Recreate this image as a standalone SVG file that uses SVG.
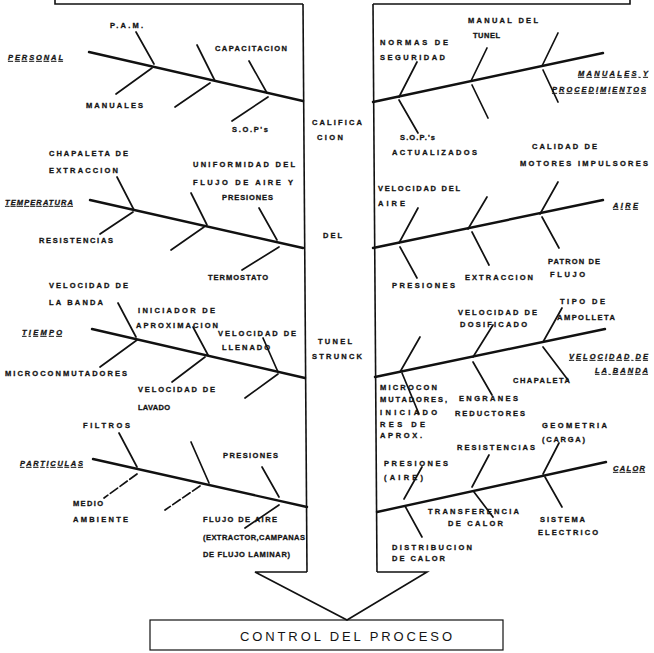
<svg xmlns="http://www.w3.org/2000/svg" width="654" height="653" viewBox="0 0 654 653">
  <style>
    .t { font-family: "Liberation Sans", Arial, sans-serif; font-size: 7.5px; font-weight: bold; fill: #141414; stroke: #141414; stroke-width: 0.3; }
    .cat { font-style: italic; text-decoration: underline; }
    .spine { stroke: #111; stroke-width: 2.4; fill: none; stroke-linecap: round; }
    .bone { stroke: #111; stroke-width: 1.7; fill: none; stroke-linecap: round; }
    .body { stroke: #111; stroke-width: 1.6; fill: none; }
    .out { font-family: "Liberation Sans", Arial, sans-serif; font-size: 13px; fill: #141414; }
  </style>
  <rect width="654" height="653" fill="#ffffff"/>

  <!-- arrow body carrying the effect down to the output -->
  <g id="connectors">
    <polyline class="body" points="55,0 55,4 303,4"/>
    <polyline class="body" points="373,4 630,4 630,0"/>
    <line class="body" x1="303" y1="4" x2="307" y2="572"/>
    <line class="body" x1="373" y1="4" x2="377" y2="572"/>
    <polyline class="body" points="307,572 255,572 347,620 427,572 377,572" stroke-width="1.2"/>
  </g>

  <!-- problem statement written along the arrow -->
  <g id="problem">
    <text class="t" x="312" y="125" textLength="50" lengthAdjust="spacing">CALIFICA</text>
    <text class="t" x="317" y="140" textLength="26" lengthAdjust="spacing">CION</text>
    <text class="t" x="323" y="238" textLength="19" lengthAdjust="spacing">DEL</text>
    <text class="t" x="318" y="344" textLength="34" lengthAdjust="spacing">TUNEL</text>
    <text class="t" x="312" y="359" textLength="50" lengthAdjust="spacing">STRUNCK</text>
  </g>

  <!-- left side categories -->
  <g id="personal">
    <line class="spine" x1="89" y1="52" x2="303" y2="101"/>
    <line class="bone" x1="136" y1="32" x2="154" y2="64"/>
    <line class="bone" x1="197" y1="45" x2="215" y2="81"/>
    <line class="bone" x1="249" y1="61" x2="267" y2="93"/>
    <line class="bone" x1="152" y1="68" x2="116" y2="94"/>
    <line class="bone" x1="210" y1="83" x2="175" y2="107"/>
    <line class="bone" x1="268" y1="97" x2="232" y2="121"/>
    <text class="t cat" x="8" y="60" textLength="55" lengthAdjust="spacing">PERSONAL</text>
    <text class="t" x="110" y="28" textLength="33" lengthAdjust="spacing">P.A.M.</text>
    <text class="t" x="215" y="51" textLength="72" lengthAdjust="spacing">CAPACITACION</text>
    <text class="t" x="86" y="108" textLength="57" lengthAdjust="spacing">MANUALES</text>
    <text class="t" x="232" y="132" textLength="36" lengthAdjust="spacing">S.O.P's</text>
  </g>

  <g id="temperatura">
    <line class="spine" x1="90" y1="200" x2="303" y2="248"/>
    <line class="bone" x1="117" y1="177" x2="134" y2="210"/>
    <line class="bone" x1="191" y1="193" x2="207" y2="225"/>
    <line class="bone" x1="259" y1="208" x2="277" y2="240"/>
    <line class="bone" x1="133" y1="212" x2="100" y2="234"/>
    <line class="bone" x1="204" y1="227" x2="171" y2="250"/>
    <line class="bone" x1="279" y1="247" x2="242" y2="270"/>
    <text class="t cat" x="5" y="205" textLength="68" lengthAdjust="spacing">TEMPERATURA</text>
    <text class="t" x="49" y="156" textLength="79" lengthAdjust="spacing">CHAPALETA DE</text>
    <text class="t" x="49" y="173" textLength="69" lengthAdjust="spacing">EXTRACCION</text>
    <text class="t" x="193" y="167" textLength="102" lengthAdjust="spacing">UNIFORMIDAD DEL</text>
    <text class="t" x="193" y="185" textLength="100" lengthAdjust="spacing">FLUJO DE AIRE Y</text>
    <text class="t" x="222" y="200" textLength="51" lengthAdjust="spacing">PRESIONES</text>
    <text class="t" x="39" y="243" textLength="74" lengthAdjust="spacing">RESISTENCIAS</text>
    <text class="t" x="208" y="280" textLength="60" lengthAdjust="spacing">TERMOSTATO</text>
  </g>

  <g id="tiempo">
    <line class="spine" x1="92" y1="329" x2="305" y2="378"/>
    <line class="bone" x1="118" y1="303" x2="136" y2="337"/>
    <line class="bone" x1="193" y1="327" x2="208" y2="355"/>
    <line class="bone" x1="263" y1="338" x2="278" y2="372"/>
    <line class="bone" x1="137" y1="340" x2="100" y2="367"/>
    <line class="bone" x1="205" y1="357" x2="172" y2="382"/>
    <line class="bone" x1="278" y1="374" x2="245" y2="398"/>
    <text class="t cat" x="22" y="335" textLength="40" lengthAdjust="spacing">TIEMPO</text>
    <text class="t" x="49" y="288" textLength="79" lengthAdjust="spacing">VELOCIDAD DE</text>
    <text class="t" x="49" y="305" textLength="54" lengthAdjust="spacing">LA BANDA</text>
    <text class="t" x="138" y="313" textLength="77" lengthAdjust="spacing">INICIADOR DE</text>
    <text class="t" x="136" y="328" textLength="82" lengthAdjust="spacing">APROXIMACION</text>
    <text class="t" x="218" y="336" textLength="78" lengthAdjust="spacing">VELOCIDAD DE</text>
    <text class="t" x="222" y="350" textLength="48" lengthAdjust="spacing">LLENADO</text>
    <text class="t" x="5" y="376" textLength="122" lengthAdjust="spacing">MICROCONMUTADORES</text>
    <text class="t" x="138" y="392" textLength="77" lengthAdjust="spacing">VELOCIDAD DE</text>
    <text class="t" x="138" y="410" textLength="32" lengthAdjust="spacing">LAVADO</text>
  </g>

  <g id="particulas">
    <line class="spine" x1="93" y1="459" x2="307" y2="507"/>
    <line class="bone" x1="119" y1="433" x2="137" y2="467"/>
    <line class="bone" x1="191" y1="442" x2="209" y2="483"/>
    <line class="bone" x1="262" y1="467" x2="279" y2="497"/>
    <line class="bone" x1="137" y1="474" x2="104" y2="498" stroke-dasharray="9 3"/>
    <line class="bone" x1="200" y1="486" x2="165" y2="510" stroke-dasharray="9 3"/>
    <line class="bone" x1="279" y1="505" x2="245" y2="528"/>
    <text class="t cat" x="20" y="466" textLength="63" lengthAdjust="spacing">PARTICULAS</text>
    <text class="t" x="83" y="428" textLength="47" lengthAdjust="spacing">FILTROS</text>
    <text class="t" x="223" y="458" textLength="55" lengthAdjust="spacing">PRESIONES</text>
    <text class="t" x="73" y="506" textLength="30" lengthAdjust="spacing">MEDIO</text>
    <text class="t" x="73" y="522" textLength="55" lengthAdjust="spacing">AMBIENTE</text>
    <text class="t" x="203" y="522" textLength="74" lengthAdjust="spacing">FLUJO DE AIRE</text>
    <text class="t" x="203" y="540" textLength="102" lengthAdjust="spacing">(EXTRACTOR,CAMPANAS</text>
    <text class="t" x="203" y="557" textLength="87" lengthAdjust="spacing">DE FLUJO LAMINAR)</text>
  </g>

  <!-- right side categories -->
  <g id="manuales">
    <line class="spine" x1="373" y1="102" x2="603" y2="53"/>
    <line class="bone" x1="399" y1="97" x2="417" y2="62"/>
    <line class="bone" x1="471" y1="81" x2="487" y2="48"/>
    <line class="bone" x1="542" y1="66" x2="558" y2="33"/>
    <line class="bone" x1="399" y1="100" x2="418" y2="133"/>
    <line class="bone" x1="472" y1="85" x2="488" y2="118"/>
    <line class="bone" x1="543" y1="70" x2="558" y2="102"/>
    <text class="t cat" x="578" y="76" textLength="70" lengthAdjust="spacing">MANUALES Y</text>
    <text class="t cat" x="552" y="92" textLength="94" lengthAdjust="spacing">PROCEDIMIENTOS</text>
    <text class="t" x="380" y="45" textLength="68" lengthAdjust="spacing">NORMAS DE</text>
    <text class="t" x="380" y="60" textLength="65" lengthAdjust="spacing">SEGURIDAD</text>
    <text class="t" x="468" y="23" textLength="70" lengthAdjust="spacing">MANUAL DEL</text>
    <text class="t" x="473" y="38" textLength="27" lengthAdjust="spacing">TUNEL</text>
    <text class="t" x="400" y="140" textLength="35" lengthAdjust="spacing">S.O.P.'s</text>
    <text class="t" x="392" y="155" textLength="85" lengthAdjust="spacing">ACTUALIZADOS</text>
    <text class="t" x="532" y="149" textLength="65" lengthAdjust="spacing">CALIDAD DE</text>
    <text class="t" x="520" y="166" textLength="128" lengthAdjust="spacing">MOTORES IMPULSORES</text>
  </g>

  <g id="aire">
    <line class="spine" x1="373" y1="248" x2="603" y2="200"/>
    <line class="bone" x1="399" y1="243" x2="418" y2="208"/>
    <line class="bone" x1="468" y1="229" x2="487" y2="197"/>
    <line class="bone" x1="540" y1="214" x2="558" y2="182"/>
    <line class="bone" x1="400" y1="247" x2="417" y2="278"/>
    <line class="bone" x1="472" y1="232" x2="489" y2="265"/>
    <line class="bone" x1="542" y1="217" x2="559" y2="248"/>
    <text class="t cat" x="613" y="208" textLength="25" lengthAdjust="spacing">AIRE</text>
    <text class="t" x="378" y="191" textLength="82" lengthAdjust="spacing">VELOCIDAD DEL</text>
    <text class="t" x="378" y="206" textLength="27" lengthAdjust="spacing">AIRE</text>
    <text class="t" x="392" y="288" textLength="63" lengthAdjust="spacing">PRESIONES</text>
    <text class="t" x="465" y="280" textLength="68" lengthAdjust="spacing">EXTRACCION</text>
    <text class="t" x="548" y="264" textLength="52" lengthAdjust="spacing">PATRON DE</text>
    <text class="t" x="550" y="277" textLength="35" lengthAdjust="spacing">FLUJO</text>
  </g>

  <g id="velocidad-banda">
    <line class="spine" x1="375" y1="377" x2="605" y2="329"/>
    <line class="bone" x1="400" y1="372" x2="420" y2="337"/>
    <line class="bone" x1="473" y1="357" x2="493" y2="325"/>
    <line class="bone" x1="543" y1="342" x2="562" y2="308"/>
    <line class="bone" x1="402" y1="373" x2="419" y2="414"/>
    <line class="bone" x1="473" y1="362" x2="492" y2="395"/>
    <line class="bone" x1="543" y1="347" x2="568" y2="380"/>
    <text class="t cat" x="569" y="359" textLength="79" lengthAdjust="spacing">VELOCIDAD DE</text>
    <text class="t cat" x="595" y="373" textLength="53" lengthAdjust="spacing">LA BANDA</text>
    <text class="t" x="560" y="304" textLength="45" lengthAdjust="spacing">TIPO DE</text>
    <text class="t" x="557" y="320" textLength="58" lengthAdjust="spacing">AMPOLLETA</text>
    <text class="t" x="458" y="315" textLength="79" lengthAdjust="spacing">VELOCIDAD DE</text>
    <text class="t" x="460" y="327" textLength="67" lengthAdjust="spacing">DOSIFICADO</text>
    <text class="t" x="513" y="383" textLength="57" lengthAdjust="spacing">CHAPALETA</text>
    <text class="t" x="380" y="390" textLength="57" lengthAdjust="spacing">MICROCON</text>
    <text class="t" x="380" y="402" textLength="67" lengthAdjust="spacing">MUTADORES,</text>
    <text class="t" x="380" y="415" textLength="57" lengthAdjust="spacing">INICIADO</text>
    <text class="t" x="380" y="427" textLength="45" lengthAdjust="spacing">RES DE</text>
    <text class="t" x="380" y="438" textLength="42" lengthAdjust="spacing">APROX.</text>
    <text class="t" x="459" y="401" textLength="59" lengthAdjust="spacing">ENGRANES</text>
    <text class="t" x="455" y="416" textLength="70" lengthAdjust="spacing">REDUCTORES</text>
  </g>

  <g id="calor">
    <line class="spine" x1="377" y1="512" x2="606" y2="462"/>
    <line class="bone" x1="404" y1="499" x2="422" y2="467"/>
    <line class="bone" x1="472" y1="487" x2="489" y2="455"/>
    <line class="bone" x1="543" y1="474" x2="559" y2="443"/>
    <line class="bone" x1="405" y1="506" x2="422" y2="537"/>
    <line class="bone" x1="474" y1="492" x2="493" y2="517"/>
    <line class="bone" x1="545" y1="477" x2="562" y2="507"/>
    <text class="t cat" x="613" y="471" textLength="32" lengthAdjust="spacing">CALOR</text>
    <text class="t" x="542" y="428" textLength="65" lengthAdjust="spacing">GEOMETRIA</text>
    <text class="t" x="542" y="442" textLength="43" lengthAdjust="spacing">(CARGA)</text>
    <text class="t" x="457" y="450" textLength="78" lengthAdjust="spacing">RESISTENCIAS</text>
    <text class="t" x="384" y="466" textLength="64" lengthAdjust="spacing">PRESIONES</text>
    <text class="t" x="384" y="480" textLength="39" lengthAdjust="spacing">(AIRE)</text>
    <text class="t" x="428" y="514" textLength="91" lengthAdjust="spacing">TRANSFERENCIA</text>
    <text class="t" x="448" y="526" textLength="55" lengthAdjust="spacing">DE CALOR</text>
    <text class="t" x="540" y="522" textLength="45" lengthAdjust="spacing">SISTEMA</text>
    <text class="t" x="538" y="535" textLength="60" lengthAdjust="spacing">ELECTRICO</text>
    <text class="t" x="392" y="550" textLength="80" lengthAdjust="spacing">DISTRIBUCION</text>
    <text class="t" x="392" y="561" textLength="53" lengthAdjust="spacing">DE CALOR</text>
  </g>

  <!-- effect box -->
  <g id="control">
    <rect x="150" y="620" width="353" height="30" fill="none" stroke="#111" stroke-width="1.2"/>
    <text class="out" x="240" y="641" textLength="212" lengthAdjust="spacing">CONTROL DEL PROCESO</text>
  </g>
</svg>
